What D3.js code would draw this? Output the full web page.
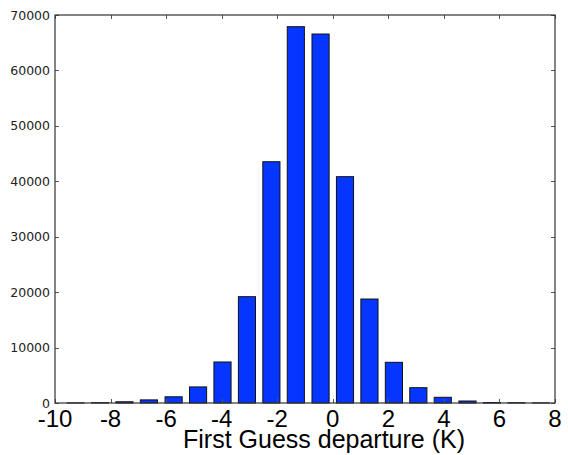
<!DOCTYPE html>
<html>
<head>
<meta charset="utf-8">
<script src="https://cdn.jsdelivr.net/npm/d3@7"></script>
<style>
  html, body { margin: 0; padding: 0; background: #fff; }
  svg { display: block; }
</style>
</head>
<body>
<svg id="chart" width="568" height="455"></svg>
<script>
// Histogram of first-guess departures (K): bin centres and counts
const binCenters = [-9.26, -8.38, -7.50, -6.62, -5.73, -4.85, -3.97, -3.09, -2.21, -1.33,
                    -0.44, 0.44, 1.32, 2.20, 3.08, 3.96, 4.85, 5.73, 6.61, 7.49];
const counts = [20, 60, 220, 560, 1120, 2900, 7400, 19180, 43530, 67890,
                66570, 40830, 18760, 7340, 2760, 1030, 360, 90, 50, 20];
const binWidth = 0.8815;
const barFraction = 0.7;

const xTicks = [-10, -8, -6, -4, -2, 0, 2, 4, 6, 8];
const yTicks = [0, 10000, 20000, 30000, 40000, 50000, 60000, 70000];
const xLabel = "First Guess departure (K)";

const svg = d3.select("#chart");
const m = { left: 55, right: 13, top: 15, bottom: 52 };
const W = 568, H = 455;

const x = d3.scaleLinear().domain([-10, 8]).range([m.left, W - m.right]);
const y = d3.scaleLinear().domain([0, 70000]).range([H - m.bottom, m.top]);

// bars
svg.append("g").selectAll("rect")
  .data(binCenters.map((c, i) => ({ c, v: counts[i] })))
  .join("rect")
  .attr("x", d => x(d.c - binWidth * barFraction / 2))
  .attr("width", d => x(d.c + binWidth * barFraction / 2) - x(d.c - binWidth * barFraction / 2))
  .attr("y", d => y(d.v))
  .attr("height", d => y(0) - y(d.v))
  .attr("fill", "#0536ff")
  .attr("stroke", "#111")
  .attr("stroke-width", 1);

// inward ticks on all four sides
const tickLen = 4;
const frame = svg.append("g").attr("stroke", "#555").attr("stroke-width", 1);
xTicks.forEach(t => {
  const px = Math.round(x(t)) + 0.5;
  frame.append("line").attr("x1", px).attr("x2", px).attr("y1", y(0)).attr("y2", y(0) - tickLen);
  frame.append("line").attr("x1", px).attr("x2", px).attr("y1", y(70000)).attr("y2", y(70000) + tickLen);
});
yTicks.forEach(t => {
  const py = Math.round(y(t)) + 0.5;
  frame.append("line").attr("x1", x(-10)).attr("x2", x(-10) + tickLen).attr("y1", py).attr("y2", py);
  frame.append("line").attr("x1", x(8)).attr("x2", x(8) - tickLen).attr("y1", py).attr("y2", py);
});

// plot frame
svg.append("rect")
  .attr("x", x(-10)).attr("y", y(70000))
  .attr("width", x(8) - x(-10)).attr("height", y(0) - y(70000))
  .attr("fill", "none").attr("stroke", "#333").attr("stroke-width", 1.2);

// y tick labels
svg.append("g").selectAll("text")
  .data(yTicks)
  .join("text")
  .attr("x", x(-10) - 5)
  .attr("y", d => y(d))
  .attr("dy", "0.36em")
  .attr("text-anchor", "end")
  .attr("font-family", "DejaVu Sans, sans-serif")
  .attr("font-size", 12.5)
  .attr("fill", "#222")
  .text(d => d);

// x tick labels
svg.append("g").selectAll("text")
  .data(xTicks)
  .join("text")
  .attr("x", d => x(d))
  .attr("y", 427)
  .attr("text-anchor", "middle")
  .attr("font-family", "Liberation Sans, Arial, sans-serif")
  .attr("font-size", 24)
  .attr("fill", "#000")
  .text(d => d);

// x axis title
svg.append("text")
  .attr("x", 324)
  .attr("y", 448)
  .attr("text-anchor", "middle")
  .attr("font-family", "Liberation Sans, Arial, sans-serif")
  .attr("font-size", 25)
  .attr("fill", "#000")
  .text(xLabel);
</script>
</body>
</html>
